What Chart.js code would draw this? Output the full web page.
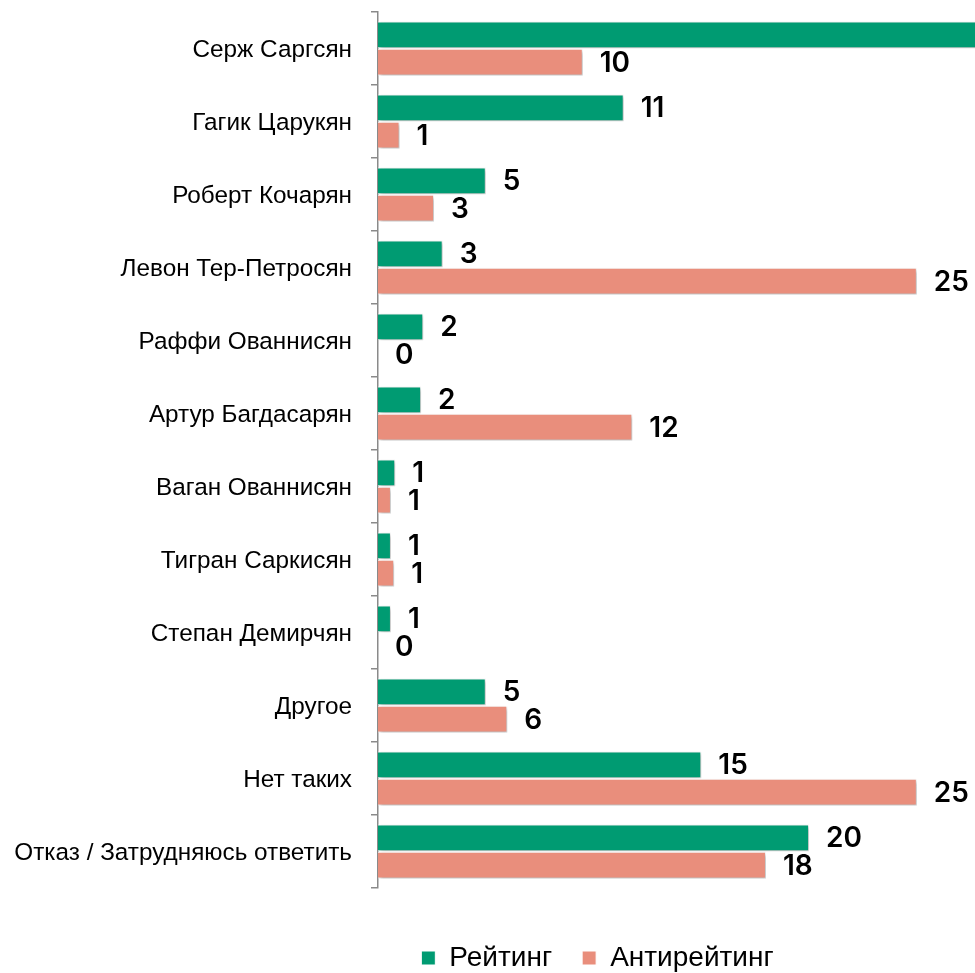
<!DOCTYPE html>
<html>
<head>
<meta charset="utf-8">
<script src="https://cdn.jsdelivr.net/npm/chart.js@4"></script>
<style>
  body { margin: 0; background: #fff; }
  #wrap { width: 975px; height: 973px; overflow: hidden; }
</style>
</head>
<body>
<div id="wrap"><canvas id="chart" width="975" height="973"></canvas></div>
<script>
// categories (top to bottom)
const categories = [
    "Серж Саргсян",
    "Гагик Царукян",
    "Роберт Кочарян",
    "Левон Тер-Петросян",
    "Раффи Ованнисян",
    "Артур Багдасарян",
    "Ваган Ованнисян",
    "Тигран Саркисян",
    "Степан Демирчян",
    "Другое",
    "Нет таких",
    "Отказ / Затрудняюсь ответить"
];

// bar lengths (labels show the rounded value)
const rating = [32, 11.4, 5, 3, 2.1, 2, 0.8, 0.6, 0.6, 5, 15, 20];
const antiRating = [9.5, 1, 2.6, 25, 0, 11.8, 0.6, 0.75, 0, 6, 25, 18];

const seriesNames = ["Рейтинг", "Антирейтинг"];
const green = "#009B72", salmon = "#E98E7C";

// x axis range: the first bar runs off the right edge
const xMax = 27.7;

// soft shadow under the bars + value labels at the bar ends
const barExtras = {
    id: "barExtras",
    afterLayout(chart) {
        // legend sits a bit right of centre and low, like the original
        const lg = chart.legend;
        lg.left += 220;
        lg.top += 9;
        lg.bottom += 9;
    },
    beforeDatasetsDraw(chart) {
        const ctx = chart.ctx;
        ctx.save();
        ctx.shadowColor = "rgba(0,0,0,0.28)";
        ctx.shadowBlur = 4;
        ctx.shadowOffsetX = 2;
        ctx.shadowOffsetY = 2;
    },
    afterDatasetsDraw(chart) {
        const ctx = chart.ctx;
        ctx.restore();
        ctx.save();
        ctx.font = "600 28px Inter";
        ctx.fillStyle = "#000";
        ctx.textAlign = "left";
        ctx.textBaseline = "middle";
        chart.data.datasets.forEach((ds, i) => {
            chart.getDatasetMeta(i).data.forEach((bar, j) => {
                const x = bar.x + 17;
                if (x > chart.chartArea.right) return;
                ctx.fillText(String(Math.round(ds.data[j])), x, bar.y + 1);
            });
        });
        ctx.restore();
    }
};

new Chart(document.getElementById("chart"), {
    type: "bar",
    data: {
        labels: categories,
        datasets: [
            { label: seriesNames[0], data: rating, backgroundColor: green, borderColor: "#fff", borderWidth: 1 },
            { label: seriesNames[1], data: antiRating, backgroundColor: salmon, borderColor: "#fff", borderWidth: 1 }
        ]
    },
    options: {
        indexAxis: "y",
        responsive: false,
        animation: false,
        devicePixelRatio: 1,
        categoryPercentage: 0.75,
        barPercentage: 0.98,
        layout: { padding: { top: 12, left: 0, right: 0, bottom: 0 } },
        scales: {
            x: {
                min: 0,
                max: xMax,
                display: true,
                ticks: { display: false },
                grid: { display: false },
                border: { display: false },
                afterFit(scale) { scale.height = 17; }
            },
            y: {
                grid: {
                    display: true,
                    drawOnChartArea: false,
                    offset: true,
                    tickLength: 7,
                    color: "#8a8a8a",
                    lineWidth: 1.5
                },
                border: { display: true, color: "#8a8a8a", width: 1.5 },
                ticks: {
                    color: "#000",
                    padding: 19,
                    labelOffset: 2,
                    font: { family: "Liberation Sans", size: 24.3 }
                },
                afterFit(scale) {
                    scale.width = 378;
                    scale.paddingTop = 0;
                    scale.paddingBottom = 0;
                }
            }
        },
        plugins: {
            legend: {
                position: "bottom",
                labels: {
                    boxWidth: 14,
                    boxHeight: 14,
                    padding: 30,
                    color: "#000",
                    font: { family: "Liberation Sans", size: 28 }
                }
            },
            tooltip: { enabled: false }
        }
    },
    plugins: [barExtras]
});
</script>
</body>
</html>
